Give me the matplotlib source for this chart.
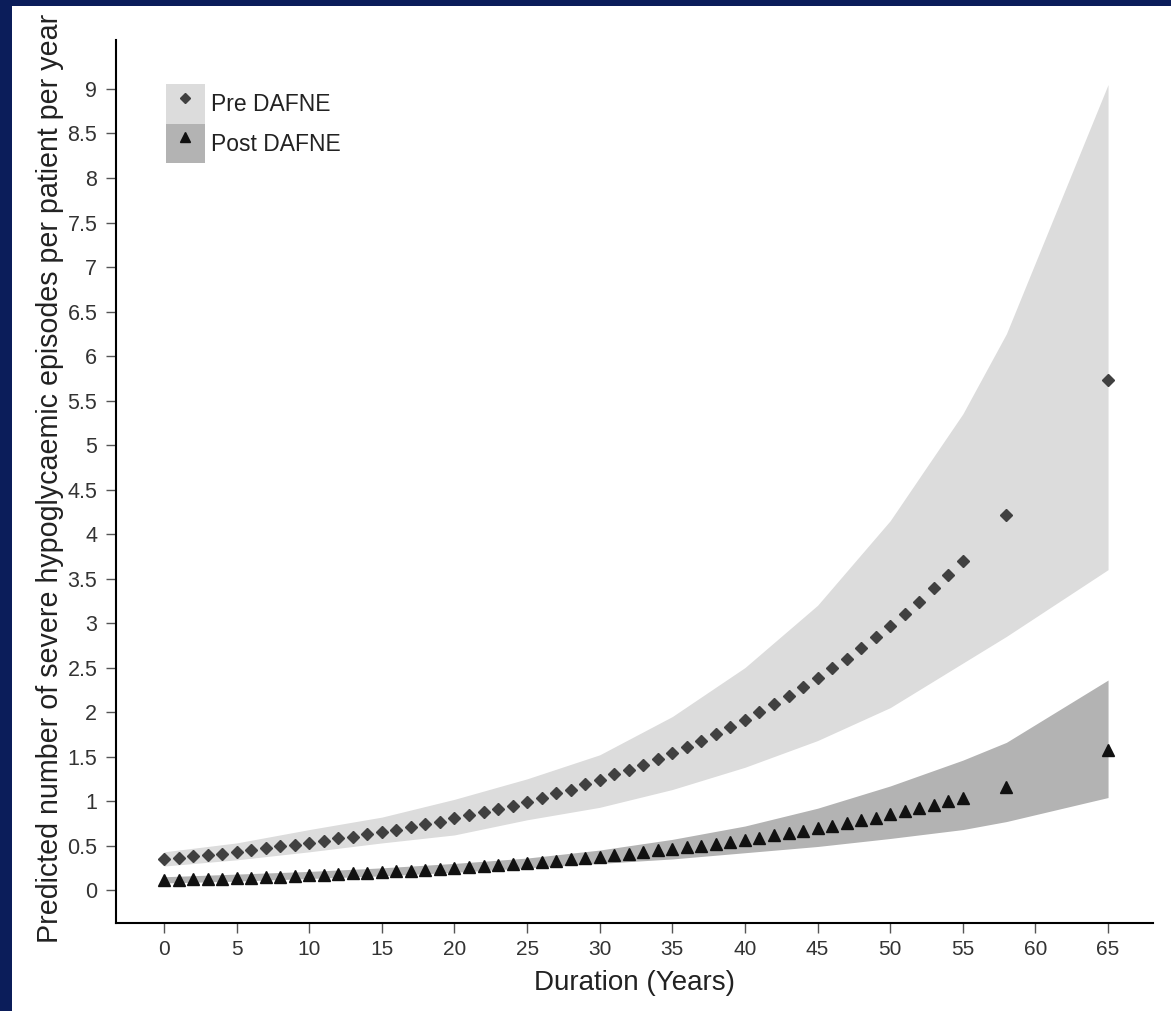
import matplotlib
matplotlib.use("Agg")
import matplotlib.pyplot as plt
import numpy as np
from matplotlib.patches import Patch, Rectangle
from matplotlib.lines import Line2D
from matplotlib.legend_handler import HandlerTuple

plt.rcParams["font.family"] = ["Liberation Sans", "DejaVu Sans"]

NAVY = "#0b1d5a"
PRE_BAND = "#dcdcdc"
POST_BAND = "#b3b3b3"
PRE_C = "#404040"
POST_C = "#111111"
TICK_C = "#333333"

# predicted episodes per patient-year, one point per year of duration
years = list(range(0, 56)) + [58, 65]
pre_dafne = [0.35, 0.36, 0.38, 0.39, 0.41, 0.43, 0.45, 0.47, 0.49, 0.51,
             0.53, 0.55, 0.58, 0.60, 0.63, 0.65, 0.68, 0.71, 0.74, 0.77,
             0.81, 0.84, 0.88, 0.91, 0.95, 0.99, 1.04, 1.09, 1.13, 1.19,
             1.24, 1.30, 1.35, 1.41, 1.47, 1.54, 1.61, 1.68, 1.75, 1.83,
             1.91, 2.00, 2.09, 2.18, 2.28, 2.38, 2.49, 2.60, 2.72, 2.84,
             2.97, 3.10, 3.24, 3.39, 3.54, 3.70, 4.21, 5.73]
post_dafne = [0.11, 0.115, 0.12, 0.125, 0.13, 0.135, 0.14, 0.145, 0.15, 0.16,
              0.165, 0.17, 0.18, 0.19, 0.195, 0.20, 0.21, 0.22, 0.23, 0.24,
              0.25, 0.26, 0.27, 0.28, 0.29, 0.30, 0.32, 0.33, 0.345, 0.36,
              0.375, 0.39, 0.41, 0.425, 0.445, 0.46, 0.48, 0.50, 0.52, 0.545,
              0.565, 0.59, 0.615, 0.64, 0.665, 0.695, 0.72, 0.75, 0.785, 0.815,
              0.85, 0.885, 0.925, 0.96, 1.00, 1.04, 1.16, 1.57]

# confidence bands
band_years = [0, 5, 10, 15, 20, 25, 30, 35, 40, 45, 50, 55, 58, 65]
pre_lo = [0.27, 0.34, 0.43, 0.53, 0.62, 0.79, 0.93, 1.13, 1.38, 1.68, 2.05, 2.55, 2.85, 3.60]
pre_hi = [0.43, 0.53, 0.68, 0.82, 1.02, 1.25, 1.52, 1.95, 2.50, 3.20, 4.15, 5.35, 6.25, 9.05]
post_lo = [0.08, 0.10, 0.13, 0.16, 0.20, 0.25, 0.30, 0.35, 0.42, 0.49, 0.58, 0.68, 0.77, 1.04]
post_hi = [0.15, 0.18, 0.21, 0.25, 0.30, 0.36, 0.45, 0.57, 0.72, 0.92, 1.17, 1.46, 1.66, 2.36]

xticks = list(range(0, 70, 5))
yticks = [i * 0.5 for i in range(19)]

fig = plt.figure(figsize=(11.71, 10.11), dpi=100, facecolor=NAVY)
fig.patches.append(Rectangle((12 / 1171, 0), 1, 1 - 6 / 1011, transform=fig.transFigure,
                             facecolor="white", edgecolor="none", zorder=-10))
ax = fig.add_axes([0.0991, 0.0870, 0.8856, 0.8734])
ax.set_facecolor("white")

ax.fill_between(band_years, pre_lo, pre_hi, color=PRE_BAND, linewidth=0, zorder=1)
ax.fill_between(band_years, post_lo, post_hi, color=POST_BAND, linewidth=0, zorder=1)
ax.plot(years, pre_dafne, "D", ls="none", ms=6.2, color=PRE_C, zorder=3)
ax.plot(years, post_dafne, "^", ls="none", ms=8.8, color=POST_C, zorder=3)

ax.set_xlim(-3.3, 68.1)
ax.set_ylim(-0.37, 9.55)
ax.set_xticks(xticks)
ax.set_yticks(yticks)
ax.set_yticklabels([f"{v:g}" for v in yticks])
ax.tick_params(axis="both", length=7, width=1, color="#555555", labelcolor=TICK_C)
ax.tick_params(axis="x", labelsize=15, pad=5.5)
ax.tick_params(axis="y", labelsize=15.5, pad=6.5)
for s in ("top", "right"):
    ax.spines[s].set_visible(False)
for s in ("left", "bottom"):
    ax.spines[s].set_linewidth(1.5)
    ax.spines[s].set_color("black")

ax.set_xlabel("Duration (Years)", fontsize=20, color="#222222", va="center")
ax.xaxis.set_label_coords(0.4995, -0.068)
ax.set_ylabel("Predicted number of severe hypoglycaemic episodes per patient per year",
              fontsize=20.6, color="#222222", va="center")
ax.yaxis.set_label_coords(-0.0636, 0.504)

handles = [(Patch(facecolor=PRE_BAND, edgecolor="none"),
            Line2D([], [], marker="D", ls="none", ms=5, color=PRE_C)),
           (Patch(facecolor=POST_BAND, edgecolor="none"),
            Line2D([], [], marker="^", ls="none", ms=7, color=POST_C))]
ax.legend(handles, ["Pre DAFNE", "Post DAFNE"], handler_map={tuple: HandlerTuple(ndivide=1)},
          loc="upper left", bbox_to_anchor=(0.048, 0.95), frameon=False, fontsize=16.5,
          handlelength=1.7, handleheight=2.28, labelspacing=0, borderpad=0,
          borderaxespad=0, handletextpad=0.25, numpoints=1, labelcolor="#222222")

fig.savefig("out.png", dpi=100, facecolor=NAVY)
